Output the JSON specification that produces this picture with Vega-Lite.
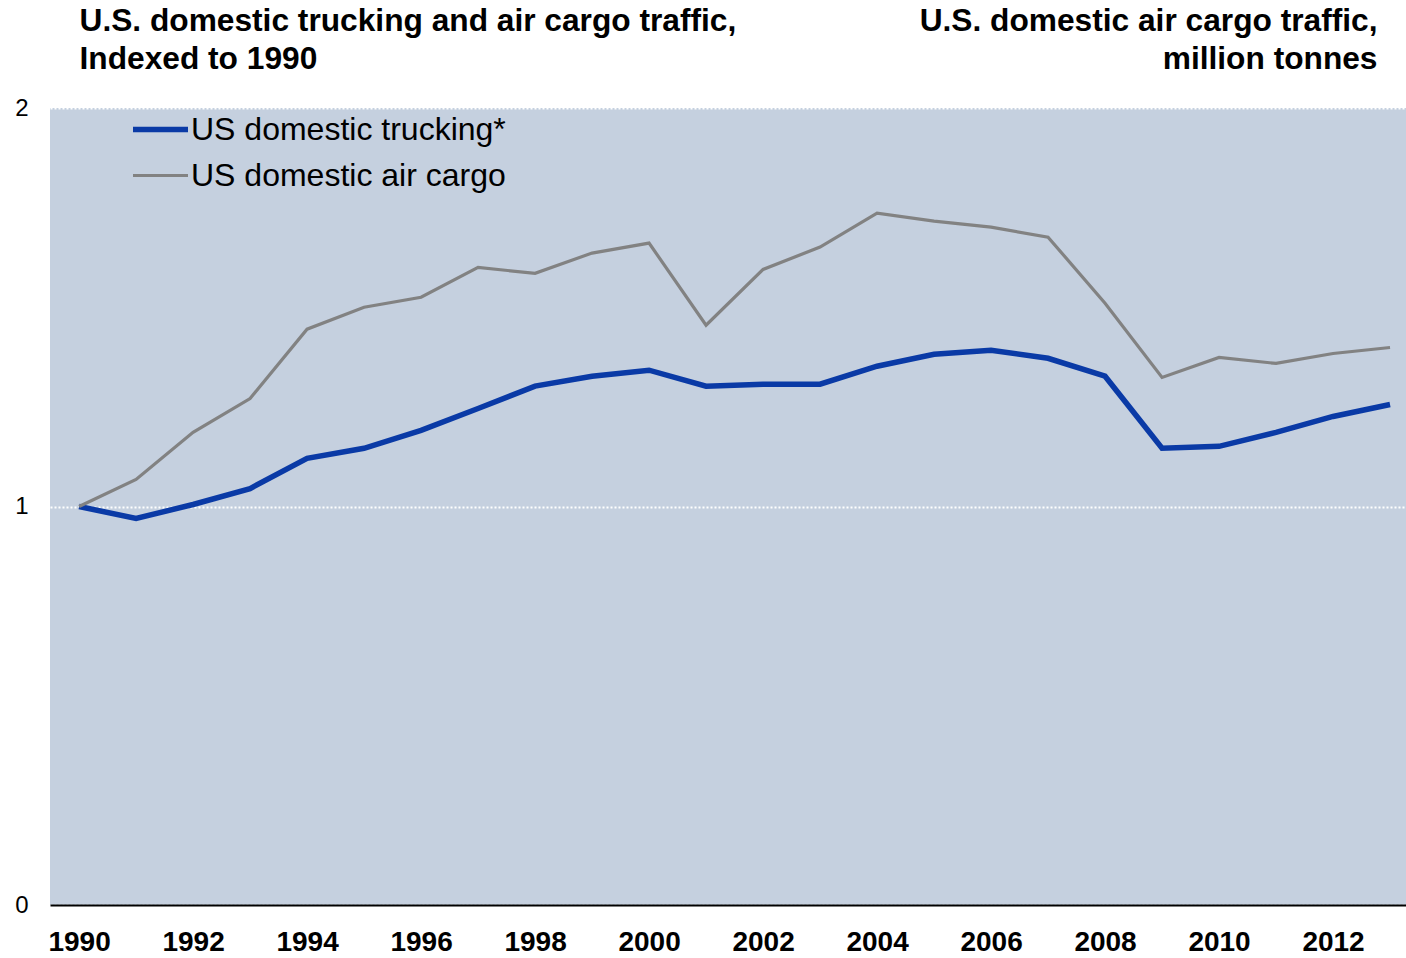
{
  "$schema": "https://vega.github.io/schema/vega-lite/v6.json",
  "width": 1356,
  "height": 797,
  "autosize": "none",
  "padding": {"left": 50, "top": 108, "right": 0, "bottom": 53},
  "background": "white",
  "config": {
    "view": {"fill": "#C5D0DF", "stroke": null},
    "font": "Liberation Sans"
  },
  "data": {
    "values": [
      {"year": 1990, "series": "US domestic trucking*", "value": 1.0},
      {"year": 1991, "series": "US domestic trucking*", "value": 0.970},
      {"year": 1992, "series": "US domestic trucking*", "value": 1.005},
      {"year": 1993, "series": "US domestic trucking*", "value": 1.045},
      {"year": 1994, "series": "US domestic trucking*", "value": 1.121},
      {"year": 1995, "series": "US domestic trucking*", "value": 1.146},
      {"year": 1996, "series": "US domestic trucking*", "value": 1.191},
      {"year": 1997, "series": "US domestic trucking*", "value": 1.246},
      {"year": 1998, "series": "US domestic trucking*", "value": 1.302},
      {"year": 1999, "series": "US domestic trucking*", "value": 1.327},
      {"year": 2000, "series": "US domestic trucking*", "value": 1.342},
      {"year": 2001, "series": "US domestic trucking*", "value": 1.302},
      {"year": 2002, "series": "US domestic trucking*", "value": 1.307},
      {"year": 2003, "series": "US domestic trucking*", "value": 1.307},
      {"year": 2004, "series": "US domestic trucking*", "value": 1.352},
      {"year": 2005, "series": "US domestic trucking*", "value": 1.382},
      {"year": 2006, "series": "US domestic trucking*", "value": 1.392},
      {"year": 2007, "series": "US domestic trucking*", "value": 1.372},
      {"year": 2008, "series": "US domestic trucking*", "value": 1.327},
      {"year": 2009, "series": "US domestic trucking*", "value": 1.146},
      {"year": 2010, "series": "US domestic trucking*", "value": 1.151},
      {"year": 2011, "series": "US domestic trucking*", "value": 1.186},
      {"year": 2012, "series": "US domestic trucking*", "value": 1.226},
      {"year": 2013, "series": "US domestic trucking*", "value": 1.256},
      {"year": 1990, "series": "US domestic air cargo", "value": 1.0},
      {"year": 1991, "series": "US domestic air cargo", "value": 1.068},
      {"year": 1992, "series": "US domestic air cargo", "value": 1.186},
      {"year": 1993, "series": "US domestic air cargo", "value": 1.271},
      {"year": 1994, "series": "US domestic air cargo", "value": 1.445},
      {"year": 1995, "series": "US domestic air cargo", "value": 1.500},
      {"year": 1996, "series": "US domestic air cargo", "value": 1.525},
      {"year": 1997, "series": "US domestic air cargo", "value": 1.600},
      {"year": 1998, "series": "US domestic air cargo", "value": 1.585},
      {"year": 1999, "series": "US domestic air cargo", "value": 1.636},
      {"year": 2000, "series": "US domestic air cargo", "value": 1.661},
      {"year": 2001, "series": "US domestic air cargo", "value": 1.455},
      {"year": 2002, "series": "US domestic air cargo", "value": 1.595},
      {"year": 2003, "series": "US domestic air cargo", "value": 1.651},
      {"year": 2004, "series": "US domestic air cargo", "value": 1.736},
      {"year": 2005, "series": "US domestic air cargo", "value": 1.716},
      {"year": 2006, "series": "US domestic air cargo", "value": 1.701},
      {"year": 2007, "series": "US domestic air cargo", "value": 1.676},
      {"year": 2008, "series": "US domestic air cargo", "value": 1.510},
      {"year": 2009, "series": "US domestic air cargo", "value": 1.324},
      {"year": 2010, "series": "US domestic air cargo", "value": 1.374},
      {"year": 2011, "series": "US domestic air cargo", "value": 1.359},
      {"year": 2012, "series": "US domestic air cargo", "value": 1.384},
      {"year": 2013, "series": "US domestic air cargo", "value": 1.399}
    ]
  },
  "encoding": {
    "x": {
      "field": "year",
      "type": "quantitative",
      "scale": {"domain": [1989.49, 2013.28], "nice": false, "zero": false},
      "axis": {
        "values": [1990, 1992, 1994, 1996, 1998, 2000, 2002, 2004, 2006, 2008, 2010, 2012],
        "format": "d",
        "title": null,
        "grid": false,
        "ticks": false,
        "domain": true,
        "domainColor": "black",
        "domainWidth": 2,
        "labelFontSize": 28,
        "labelFontWeight": "bold",
        "labelColor": "black",
        "labelPadding": 23
      }
    }
  },
  "layer": [
    {
      "mark": {"type": "line"},
      "encoding": {
        "y": {
          "field": "value",
          "type": "quantitative",
          "scale": {"domain": [0, 2], "nice": false},
          "axis": {
            "tickCount": 2,
            "labelOverlap": false,
            "labelFlush": false,
            "grid": true,
            "gridColor": "white",
            "gridDash": [2, 2],
            "gridWidth": 2,
            "domain": false,
            "ticks": false,
            "labelFontSize": 24,
            "labelColor": "black",
            "labelPadding": 22,
            "title": ["U.S. domestic trucking and air cargo traffic,", "Indexed to 1990"],
            "titleAngle": 0,
            "titleAlign": "left",
            "titleBaseline": "alphabetic",
            "titleX": 29,
            "titleY": -78,
            "titleFontSize": 31.7,
            "titleFontWeight": "bold",
            "titleColor": "black",
            "titleLineHeight": 38
          }
        },
        "color": {
          "field": "series",
          "type": "nominal",
          "scale": {
            "domain": ["US domestic trucking*", "US domestic air cargo"],
            "range": ["#0A3AA6", "#828282"]
          },
          "legend": {
            "title": null,
            "orient": "none",
            "legendX": 80,
            "legendY": -9,
            "padding": 0,
            "symbolType": "stroke",
            "symbolSize": 3025,
            "labelFontSize": 32,
            "labelColor": "black",
            "labelOffset": 0,
            "labelLimit": 0,
            "rowPadding": -22
          }
        },
        "strokeWidth": {
          "field": "series",
          "type": "nominal",
          "scale": {
            "domain": ["US domestic trucking*", "US domestic air cargo"],
            "range": [5.5, 3.2]
          },
          "legend": {
            "title": null,
            "orient": "none",
            "legendX": 80,
            "legendY": -9,
            "padding": 0,
            "symbolType": "stroke",
            "symbolSize": 3025,
            "labelFontSize": 32,
            "labelColor": "black",
            "labelOffset": 0,
            "labelLimit": 0,
            "rowPadding": -22
          }
        }
      }
    },
    {
      "mark": {"type": "line", "opacity": 0},
      "encoding": {
        "detail": {"field": "series"},
        "y": {
          "field": "value",
          "type": "quantitative",
          "scale": {"domain": [0, 2], "nice": false},
          "axis": {
            "orient": "right",
            "labels": false,
            "ticks": false,
            "domain": false,
            "grid": false,
            "title": ["U.S. domestic air cargo traffic,", "million tonnes"],
            "titleAngle": 0,
            "titleAlign": "right",
            "titleBaseline": "alphabetic",
            "titleX": -29,
            "titleY": -78,
            "titleFontSize": 31.7,
            "titleFontWeight": "bold",
            "titleColor": "black",
            "titleLineHeight": 38
          }
        }
      }
    }
  ],
  "resolve": {"scale": {"y": "independent"}}
}
